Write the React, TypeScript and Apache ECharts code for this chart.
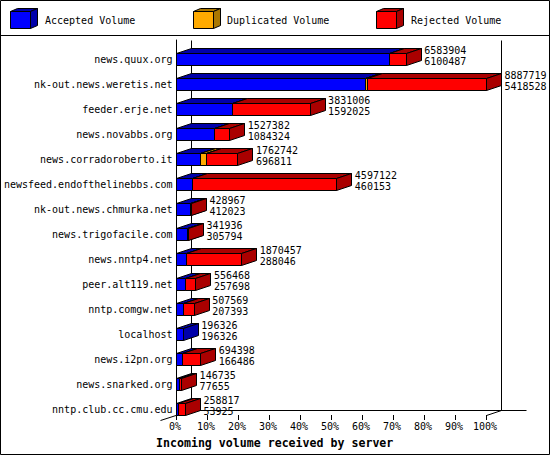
import React, { useEffect, useRef } from "react";
import * as echarts from "echarts";

const servers = [
  "news.quux.org", "nk-out.news.weretis.net", "feeder.erje.net", "news.novabbs.org",
  "news.corradoroberto.it", "newsfeed.endofthelinebbs.com", "nk-out.news.chmurka.net",
  "news.trigofacile.com", "news.nntp4.net", "peer.alt119.net", "nntp.comgw.net",
  "localhost", "news.i2pn.org", "news.snarked.org", "nntp.club.cc.cmu.edu",
];
const totalVolume = [6583904, 8887719, 3831006, 1527382, 1762742, 4597122, 428967, 341936, 1870457, 556468, 507569, 196326, 694398, 146735, 258817];
const acceptedVolume = [6100487, 5418528, 1592025, 1084324, 696811, 460153, 412023, 305794, 288046, 257698, 207393, 196326, 166486, 77655, 53925];
const duplicatedVolume = [0, 45000, 0, 0, 172000, 0, 0, 0, 0, 0, 0, 0, 0, 0, 0];
const percentTicks = [0, 10, 20, 30, 40, 50, 60, 70, 80, 90, 100];
const legendNames = ["Accepted Volume", "Duplicated Volume", "Rejected Volume"];
const chartTitle = "Incoming volume received by server";

const MONO = '"DejaVu Sans Mono", monospace';
const FONT = `10px ${MONO}`;
const FRONT = ["#0000ff", "#ffaa00", "#ff0000"];
const DARK = ["#0000aa", "#aa7700", "#aa0000"];
const DEPTH_X = 15;
const DEPTH_Y = 5;

const peak = Math.max(...totalVolume);
const pct = (v: number) => (v / peak) * 100;

const snap = (v: number) => Math.floor(v) + 0.5;

function barItem(colorIndex: number) {
  return (_params: any, api: any) => {
    const start = api.value(0);
    const end = api.value(1);
    const row = api.value(2);
    if (end <= start) return { type: "group", children: [] };
    const a = api.coord([start, row]);
    const b = api.coord([end, row]);
    const xa = snap(a[0]);
    const xb = snap(b[0]);
    const yt = snap(a[1]) + 1;
    const yb = yt + 12;
    const line = { stroke: "#000", lineWidth: 1 };
    const poly = (points: number[][], fill: string) => ({
      type: "polygon",
      shape: { points },
      style: { fill, ...line },
    });
    return {
      type: "group",
      children: [
        poly([[xa, yt], [xa + DEPTH_X, yt - DEPTH_Y], [xb + DEPTH_X, yt - DEPTH_Y], [xb, yt]], DARK[colorIndex]),
        poly([[xb, yt], [xb + DEPTH_X, yt - DEPTH_Y], [xb + DEPTH_X, yb - DEPTH_Y], [xb, yb]], DARK[colorIndex]),
        poly([[xa, yt], [xb, yt], [xb, yb], [xa, yb]], FRONT[colorIndex]),
      ],
    };
  };
}

function wallItem(params: any) {
  const cs = params.coordSys;
  const x0 = snap(cs.x);
  const x1 = snap(cs.x + cs.width);
  const y0 = snap(cs.y);
  const y1 = snap(cs.y + cs.height);
  const seg = (xa: number, ya: number, xb: number, yb: number) => ({
    type: "line",
    shape: { x1: xa, y1: ya, x2: xb, y2: yb },
    style: { stroke: "#000", lineWidth: 1, fill: "none" },
  });
  return {
    type: "group",
    children: [
      seg(x0 + DEPTH_X, y0, x0 + DEPTH_X, y1 - DEPTH_Y),
      seg(x1 + DEPTH_X, y0, x1 + DEPTH_X, y1 - DEPTH_Y),
      seg(x0 + DEPTH_X, y1 - DEPTH_Y, 526.5, y1 - DEPTH_Y),
      seg(x0 - 16, y1 + DEPTH_Y, x0 + DEPTH_X, y1 - DEPTH_Y),
      seg(x1, y1, x1 + DEPTH_X, y1 - DEPTH_Y),
    ],
  };
}

function labelItem(_params: any, api: any) {
  const end = api.value(0);
  const row = api.value(1);
  const p = api.coord([end, row]);
  const x = p[0] + DEPTH_X + 3;
  const text = (content: string, y: number) => ({
    type: "text",
    style: { text: content, x, y, font: FONT, fill: "#000", align: "left", verticalAlign: "middle" },
  });
  return {
    type: "group",
    children: [text(String(totalVolume[row]), p[1] - 2.5), text(String(acceptedVolume[row]), p[1] + 8.5)],
  };
}

function swatch(x: number, colorIndex: number) {
  const [l, r, t, b] = [x + 0.5, x + 20.5, 11.5, 28.5];
  const stroke = { stroke: "#000", lineWidth: 1 };
  return [
    { type: "polygon", shape: { points: [[l, t], [l + 7, t - 3], [r + 7, t - 3], [r, t]] }, style: { fill: DARK[colorIndex], ...stroke } },
    { type: "polygon", shape: { points: [[r, t], [r + 7, t - 3], [r + 7, b - 3], [r, b]] }, style: { fill: DARK[colorIndex], ...stroke } },
    { type: "rect", shape: { x: l, y: t, width: r - l, height: b - t }, style: { fill: FRONT[colorIndex], ...stroke } },
  ];
}

const legendX = [10, 193, 376];
const legendTextX = [45, 227, 411];

export default function App() {
  const ref = useRef<HTMLDivElement>(null);
  useEffect(() => {
    document.body.style.margin = "0";
    const chart = echarts.init(ref.current!, undefined, { renderer: "svg" });
    const accepted = acceptedVolume.map((v, i) => [0, pct(v), i]);
    const duplicated = acceptedVolume.map((v, i) => [pct(v), pct(v + duplicatedVolume[i]), i]);
    const rejected = acceptedVolume.map((v, i) => [pct(v + duplicatedVolume[i]), pct(totalVolume[i]), i]);
    chart.setOption({
      animation: false,
      backgroundColor: "#fff",
      title: {
        text: chartTitle,
        left: 156,
        top: 436,
        padding: 0,
        textStyle: { fontFamily: MONO, fontSize: 11.6, fontWeight: "bold", color: "#000", lineHeight: 13 },
      },
      grid: { left: 176.5, top: 40, width: 310, height: 375, containLabel: false },
      xAxis: {
        type: "value",
        min: 0,
        max: 100,
        interval: 10,
        axisLine: { show: false },
        axisTick: { show: true, length: 5, lineStyle: { color: "#000", width: 1 } },
        splitLine: { show: false },
        axisLabel: {
          margin: 6,
          padding: [0, 3, 0, 0],
          fontFamily: MONO,
          fontSize: 10,
          color: "#000",
          showMinLabel: true,
          showMaxLabel: true,
          formatter: (v: number) => (percentTicks.includes(v) ? `${v}%` : ""),
        },
      },
      yAxis: {
        type: "category",
        inverse: true,
        data: servers,
        axisLine: { show: true, onZero: false, lineStyle: { color: "#000", width: 1 } },
        axisTick: { show: false },
        splitLine: { show: false },
        axisLabel: {
          interval: 0,
          margin: 4,
          fontFamily: MONO,
          fontSize: 10,
          color: "#000",
          verticalAlign: "top",
          lineHeight: 13,
        },
      },
      series: [
        { type: "custom", name: "walls", coordinateSystem: "cartesian2d", silent: true, z: 1, data: [[0, 0]], encode: { x: 0, y: 1 }, renderItem: wallItem, clip: false },
        { type: "custom", name: legendNames[0], coordinateSystem: "cartesian2d", z: 3, data: accepted, encode: { x: [0, 1], y: 2 }, renderItem: barItem(0), clip: false },
        { type: "custom", name: legendNames[1], coordinateSystem: "cartesian2d", z: 4, data: duplicated, encode: { x: [0, 1], y: 2 }, renderItem: barItem(1), clip: false },
        { type: "custom", name: legendNames[2], coordinateSystem: "cartesian2d", z: 5, data: rejected, encode: { x: [0, 1], y: 2 }, renderItem: barItem(2), clip: false },
        { type: "custom", name: "labels", coordinateSystem: "cartesian2d", z: 6, data: totalVolume.map((v, i) => [pct(v), i]), encode: { x: 0, y: 1 }, renderItem: labelItem, clip: false },
      ],
      graphic: [
        { type: "rect", z: 0, shape: { x: 0.5, y: 0.5, width: 549, height: 454 }, style: { fill: "none", stroke: "#000", lineWidth: 1 } },
        { type: "line", z: 0, shape: { x1: 0, y1: 35.5, x2: 550, y2: 35.5 }, style: { stroke: "#000", lineWidth: 1 } },
        ...legendX.flatMap((x, i) => swatch(x, i)),
        ...legendTextX.map((x, i) => ({
          type: "text",
          x,
          y: 20,
          style: { text: legendNames[i], font: FONT, fill: "#000", align: "left", verticalAlign: "middle" },
        })),
      ],
    });
    return () => chart.dispose();
  }, []);
  return <div ref={ref} style={{ width: 550, height: 455 }} />;
}
